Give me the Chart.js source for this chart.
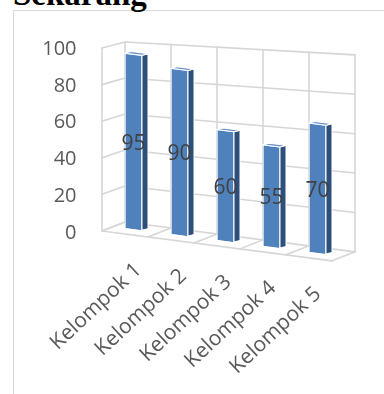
<!DOCTYPE html>
<html>
<head>
<meta charset="utf-8">
<script src="https://cdn.jsdelivr.net/npm/chart.js@4.4.1/dist/chart.umd.min.js"></script>
<style>
  html, body { margin: 0; padding: 0; background: #fff; }
  body { width: 384px; height: 394px; position: relative; overflow: hidden; }
  #bingkai { position: absolute; left: 13px; top: 10px; width: 400px; height: 400px;
             border-left: 1px solid #d9d9d9; border-top: 1px solid #d9d9d9; }
  #judul { position: absolute; left: 13px; top: -22px; white-space: nowrap;
           font: bold 33px/33px "Liberation Serif", "Times New Roman", serif; color: #000; }
  canvas { position: absolute; left: 0; top: 0; }
</style>
</head>
<body>
<div id="bingkai"></div>
<div id="judul">Sekarang</div>
<canvas id="grafik" width="384" height="394"></canvas>
<script>
// Data
const categories = ['Kelompok 1', 'Kelompok 2', 'Kelompok 3', 'Kelompok 4', 'Kelompok 5'];
const nilai = [95, 90, 60, 55, 70];
const yTicks = [0, 20, 40, 60, 80, 100];

// Oblique "3D" look: shear for the bar plane, depth offsets for the walls
const SKEW = 0.13;        // downward slope of the bar plane to the right
const SKEW_X0 = 164;      // x where the shear is zero
const DEPTH_X = 23;       // horizontal shift front -> back wall
const DEPTH_Y = 9;        // vertical rise front -> back wall
const PERSP = 0.0004;     // wall height growth to the right
const PERSP_X = 179.5;
const SIDE_W = 6;         // visible side face of each column
const SIDE_RISE = 2.3;

const GRID = '#d6d6d6';
const FRONT = '#4f81bd';
const SIDE = '#2c4f7c';
const CAP = '#6a93cc';

function project(chart, xs, v, d) {
  const y = chart.scales.y;
  const y0 = y.getPixelForValue(0);
  const xb = xs + 3;
  const sx = xb + d * DEPTH_X;
  const base = y0 + SKEW * (xb - SKEW_X0) - d * DEPTH_Y;
  const hf = 1 + PERSP * (sx - PERSP_X) + (0.5 - d) * 0.025;
  return [sx, base - (y0 - y.getPixelForValue(v)) * hf];
}

function line(ctx, a, b) {
  ctx.beginPath();
  ctx.moveTo(a[0], a[1]);
  ctx.lineTo(b[0], b[1]);
  ctx.stroke();
}

const frame3d = {
  id: 'frame3d',
  beforeDatasetsDraw(chart) {
    const ctx = chart.ctx;
    const xs = chart.scales.x;
    const n = categories.length;
    const bounds = [];
    for (let i = 0; i <= n; i++) bounds.push(xs.getPixelForValue(i - 0.5));
    const top = yTicks[yTicks.length - 1];
    const xl = bounds[0], xr = bounds[n];

    ctx.save();
    ctx.strokeStyle = GRID;
    ctx.lineWidth = 1.6;
    ctx.lineCap = 'round';
    // back wall
    bounds.forEach(b => line(ctx, project(chart, b, 0, 0.5), project(chart, b, top, 0.5)));
    yTicks.forEach(v => line(ctx, project(chart, xl, v, 0.5), project(chart, xr, v, 0.5)));
    // left wall
    yTicks.forEach(v => line(ctx, project(chart, xl, v, -0.5), project(chart, xl, v, 0.5)));
    line(ctx, project(chart, xl, 0, -0.5), project(chart, xl, top, -0.5));
    // floor
    line(ctx, project(chart, xl, 0, -0.5), project(chart, xr, 0, -0.5));
    bounds.forEach(b => line(ctx, project(chart, b, 0, -0.5), project(chart, b, 0, 0.5)));
    ctx.restore();

    // columns are drawn in the sheared bar plane
    ctx.save();
    ctx.transform(1, SKEW, 0, 1, 0, -SKEW * SKEW_X0);
  },
  afterDatasetsDraw(chart) {
    const ctx = chart.ctx;
    const meta = chart.getDatasetMeta(0);
    ctx.lineWidth = 1;
    ctx.strokeStyle = '#ffffff';
    meta.data.forEach(el => {
      const l = el.x - el.width / 2, r = el.x + el.width / 2;
      const t = el.y, b = el.base;
      ctx.beginPath();
      ctx.moveTo(r, t);
      ctx.lineTo(r + SIDE_W, t - SIDE_RISE);
      ctx.lineTo(r + SIDE_W, b - SIDE_RISE);
      ctx.lineTo(r, b);
      ctx.closePath();
      ctx.fillStyle = SIDE;
      ctx.fill();
      ctx.stroke();
      ctx.beginPath();
      ctx.moveTo(l, t);
      ctx.lineTo(r, t);
      ctx.lineTo(r + SIDE_W, t - SIDE_RISE);
      ctx.lineTo(l + SIDE_W, t - SIDE_RISE);
      ctx.closePath();
      ctx.fillStyle = CAP;
      ctx.fill();
      ctx.stroke();
    });
    ctx.restore();

    // value labels in the middle of each column
    ctx.save();
    ctx.font = '21px "Open Sans", sans-serif';
    ctx.fillStyle = '#404040';
    ctx.textAlign = 'center';
    ctx.textBaseline = 'middle';
    meta.data.forEach((el, i) => {
      const cy = (el.y + el.base) / 2 + SKEW * (el.x - SKEW_X0) + 2;
      ctx.fillText(String(nilai[i]), el.x, cy);
    });
    ctx.restore();

    // category labels along the front of the floor
    const y0 = chart.scales.y.getPixelForValue(0);
    ctx.save();
    ctx.font = '21px "Open Sans", sans-serif';
    ctx.fillStyle = '#595959';
    ctx.textAlign = 'right';
    ctx.textBaseline = 'middle';
    categories.forEach((c, i) => {
      const x = chart.scales.x.getPixelForValue(i);
      const px = x + 5 - 0.025 * (x - SKEW_X0 + 30);
      const py = y0 + 38 + SKEW * (x - SKEW_X0);
      ctx.save();
      ctx.translate(px, py);
      ctx.rotate(-43 * Math.PI / 180);
      ctx.fillText(c, 0, 0);
      ctx.restore();
    });
    ctx.restore();
  }
};

new Chart(document.getElementById('grafik'), {
  type: 'bar',
  data: {
    labels: categories,
    datasets: [{
      data: nilai,
      backgroundColor: FRONT,
      borderColor: '#ffffff',
      borderWidth: 1,
      barThickness: 17,
      clip: false
    }]
  },
  options: {
    responsive: false,
    animation: false,
    devicePixelRatio: 1,
    layout: { padding: { left: 0, right: 43.5, top: 49, bottom: 161 } },
    plugins: { legend: { display: false }, tooltip: { enabled: false } },
    scales: {
      x: { display: false },
      y: {
        min: 0,
        max: 100,
        afterBuildTicks: s => { s.ticks = yTicks.map(v => ({ value: v })); },
        afterFit: s => { s.width = 110.5; },
        grid: { display: false },
        border: { display: false },
        ticks: {
          padding: 26,
          color: '#595959',
          font: { family: '"Open Sans", sans-serif', size: 20 }
        }
      }
    }
  },
  plugins: [frame3d]
});
</script>
</body>
</html>
